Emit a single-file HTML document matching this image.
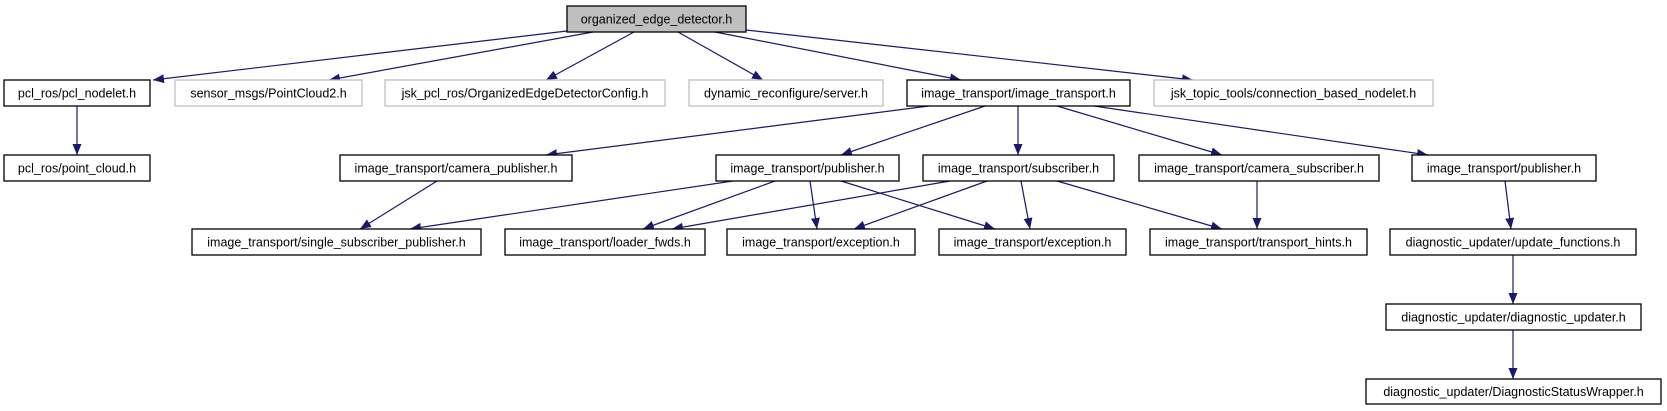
<!DOCTYPE html>
<html><head><meta charset="utf-8"><style>
html,body{margin:0;padding:0;background:#fff;}
svg{display:block;}
text{font-family:"Liberation Sans",Arial,sans-serif;font-size:12.5px;fill:#000;text-anchor:middle;}
.b{fill:#fff;stroke:#000;stroke-width:1.3;}
.g{fill:#fff;stroke:#bfbfbf;stroke-width:1.3;}
.r{fill:#bfbfbf;stroke:#000;stroke-width:1.3;}
line{stroke:#191970;stroke-width:1.2;marker-end:url(#a);}
</style></head><body>
<svg width="1667" height="411" viewBox="0 0 1667 411" xmlns="http://www.w3.org/2000/svg">
<defs><marker id="a" markerUnits="userSpaceOnUse" markerWidth="12" markerHeight="10" refX="11" refY="4.5" orient="auto"><path d="M0,0 L11,4.5 L0,9 z" fill="#191970"/></marker></defs>
<g>
<line x1="567" y1="31" x2="153" y2="80"/>
<line x1="593" y1="32" x2="329" y2="80"/>
<line x1="634" y1="32" x2="546" y2="80"/>
<line x1="678" y1="32" x2="763" y2="80"/>
<line x1="715" y1="32" x2="961" y2="80"/>
<line x1="746" y1="30" x2="1193" y2="80"/>
<line x1="77" y1="106" x2="77" y2="155"/>
<line x1="929" y1="106" x2="546" y2="155"/>
<line x1="985" y1="106" x2="841" y2="155"/>
<line x1="1018" y1="106" x2="1018" y2="155"/>
<line x1="1057" y1="106" x2="1222" y2="155"/>
<line x1="1094" y1="106" x2="1428" y2="155"/>
<line x1="437" y1="181" x2="360" y2="229"/>
<line x1="733" y1="181" x2="410" y2="229"/>
<line x1="775" y1="181" x2="643" y2="229"/>
<line x1="810" y1="181" x2="817" y2="229"/>
<line x1="841" y1="181" x2="995" y2="229"/>
<line x1="950" y1="181" x2="672" y2="229"/>
<line x1="987" y1="181" x2="854" y2="229"/>
<line x1="1021" y1="181" x2="1030" y2="229"/>
<line x1="1057" y1="181" x2="1222" y2="229"/>
<line x1="1257" y1="181" x2="1257" y2="229"/>
<line x1="1505" y1="181" x2="1511" y2="229"/>
<line x1="1513" y1="255" x2="1513" y2="304"/>
<line x1="1513" y1="330" x2="1513" y2="379"/>
</g>
<rect class="r" x="567" y="6" width="179" height="26"/><text x="656.5" y="23.5">organized_edge_detector.h</text>

<rect class="b" x="4" y="80" width="146" height="26"/><text x="77" y="97.5">pcl_ros/pcl_nodelet.h</text>
<rect class="g" x="175" y="80" width="187" height="26"/><text x="268.5" y="97.5">sensor_msgs/PointCloud2.h</text>
<rect class="g" x="385" y="80" width="280" height="26"/><text x="525" y="97.5">jsk_pcl_ros/OrganizedEdgeDetectorConfig.h</text>
<rect class="g" x="689" y="80" width="194" height="26"/><text x="786" y="97.5">dynamic_reconfigure/server.h</text>
<rect class="b" x="907" y="80" width="223" height="26"/><text x="1018.5" y="97.5">image_transport/image_transport.h</text>
<rect class="g" x="1154" y="80" width="279" height="26"/><text x="1293.5" y="97.5">jsk_topic_tools/connection_based_nodelet.h</text>

<rect class="b" x="4" y="155" width="146" height="26"/><text x="77" y="172.5">pcl_ros/point_cloud.h</text>
<rect class="b" x="340" y="155" width="232" height="26"/><text x="456" y="172.5">image_transport/camera_publisher.h</text>
<rect class="b" x="716" y="155" width="183" height="26"/><text x="807.5" y="172.5">image_transport/publisher.h</text>
<rect class="b" x="923" y="155" width="191" height="26"/><text x="1018.5" y="172.5">image_transport/subscriber.h</text>
<rect class="b" x="1139" y="155" width="240" height="26"/><text x="1259" y="172.5">image_transport/camera_subscriber.h</text>
<rect class="b" x="1412" y="155" width="184" height="26"/><text x="1504" y="172.5">image_transport/publisher.h</text>

<rect class="b" x="192" y="229" width="289" height="26"/><text x="336.5" y="246.5">image_transport/single_subscriber_publisher.h</text>
<rect class="b" x="505" y="229" width="200" height="26"/><text x="605" y="246.5">image_transport/loader_fwds.h</text>
<rect class="b" x="727" y="229" width="188" height="26"/><text x="821" y="246.5">image_transport/exception.h</text>
<rect class="b" x="939" y="229" width="187" height="26"/><text x="1032.5" y="246.5">image_transport/exception.h</text>
<rect class="b" x="1150" y="229" width="217" height="26"/><text x="1258.5" y="246.5">image_transport/transport_hints.h</text>
<rect class="b" x="1390" y="229" width="246" height="26"/><text x="1513" y="246.5">diagnostic_updater/update_functions.h</text>

<rect class="b" x="1386" y="304" width="255" height="26"/><text x="1513.5" y="321.5">diagnostic_updater/diagnostic_updater.h</text>
<rect class="b" x="1366" y="379" width="295" height="25"/><text x="1513.5" y="396">diagnostic_updater/DiagnosticStatusWrapper.h</text>
</svg>
</body></html>
